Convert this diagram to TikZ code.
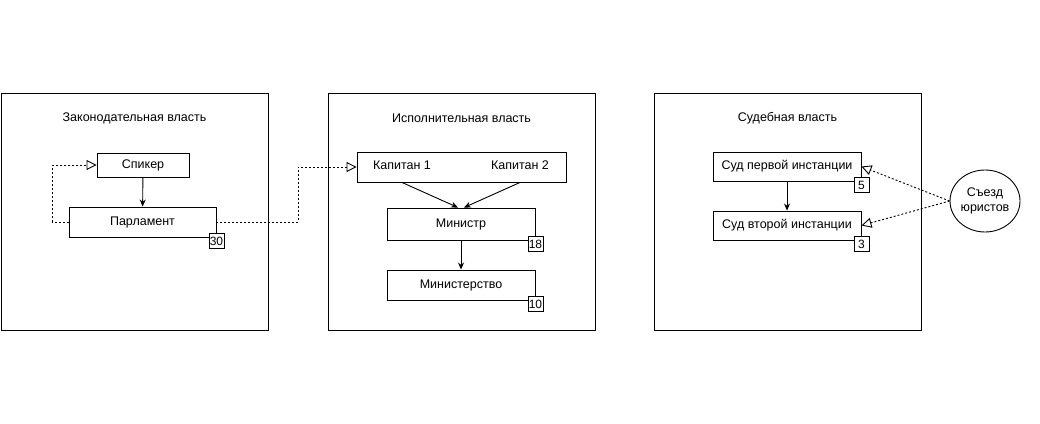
\documentclass[tikz,border=0pt]{standalone}
\usepackage{fontspec}
\setmainfont{Liberation Sans}
\usetikzlibrary{shapes, arrows.meta, positioning, calc}

\begin{document}
\begin{tikzpicture}[x=1pt, y=-1pt, font=\fontsize{12.5}{14.5}\selectfont, line width=0.9pt,
    branch/.style={draw, minimum width=267pt, minimum height=237pt},
    unit/.style={draw, minimum width=148pt, minimum height=30pt, inner sep=0pt},
    badge/.style={draw, fill=white, minimum size=15pt, inner sep=0pt, font=\fontsize{12}{13}\selectfont},
    flow/.style={-{Stealth[length=7pt, width=6pt]}},
    link/.style={dash pattern=on 2pt off 2pt, -{Triangle[open, length=10pt, width=10pt]}}]
    \useasboundingbox[fill=white] (0,0) rectangle (1040,423);
    % three branches
    \node[branch] (legis) at (134.5,211.5) {};
    \node[branch] (exec) at (461.5,211.5) {};
    \node[branch] (court) at (787.5,211.5) {};
    \node (legis-title) at (134.5,118) {Законодательная власть};
    \node (exec-title) at (461.5,118) {Исполнительная власть};
    \node (court-title) at (787.5,118) {Судебная власть};

    % legislative
    \node[unit, minimum width=92pt, minimum height=24pt] (speaker) at (143,165) {Спикер};
    \node[unit, minimum width=147pt] (parl) at (142.5,222) {Парламент};
    \node[badge] (parl-n) at ([yshift=-3.5pt] parl.south east) {30};
    \draw[flow] (speaker) -- (parl);
    \draw[link] (parl.west) -- ++(-16,0) |- (speaker.west);

    % executive
    \node[unit, minimum width=209pt] (cap) at (461.5,167) {};
    \node (cap1) at (402,165) {Капитан 1};
    \node (cap2) at (520,165) {Капитан 2};
    \node[unit, minimum height=32pt] (min) at (461,224) {Министр};
    \node[badge] (min-n) at ([yshift=-3.5pt] min.south east) {18};
    \node[unit] (ministry) at (461,285) {Министерство};
    \node[badge] (ministry-n) at ([yshift=-3.5pt] ministry.south east) {10};
    \draw[flow] (cap.south -| cap1) -- ([xshift=-3pt] min.north);
    \draw[flow] (cap.south -| cap2) -- ([xshift=3pt] min.north);
    \draw[flow] (min) -- (ministry);
    \draw[link] (parl.east) -- ++(82,0) |- (cap.west);

    % judicial
    \node[unit, minimum height=29pt] (court1) at (787,166.5) {Суд первой инстанции};
    \node[badge] (court1-n) at ([yshift=-3.5pt] court1.south east) {5};
    \node[unit, minimum height=29pt] (court2) at (787,225.5) {Суд второй инстанции};
    \node[badge] (court2-n) at ([yshift=-3.5pt] court2.south east) {3};
    \draw[flow] (court1) -- (court2);
    \node[draw, ellipse, minimum width=70pt, minimum height=62pt, inner sep=0pt, align=center] (jurists) at (985,201) {Съезд\\юристов};
    \draw[link] (jurists.west) -- (court1.east);
    \draw[link] (jurists.west) -- (court2.east);
\end{tikzpicture}
\end{document}
